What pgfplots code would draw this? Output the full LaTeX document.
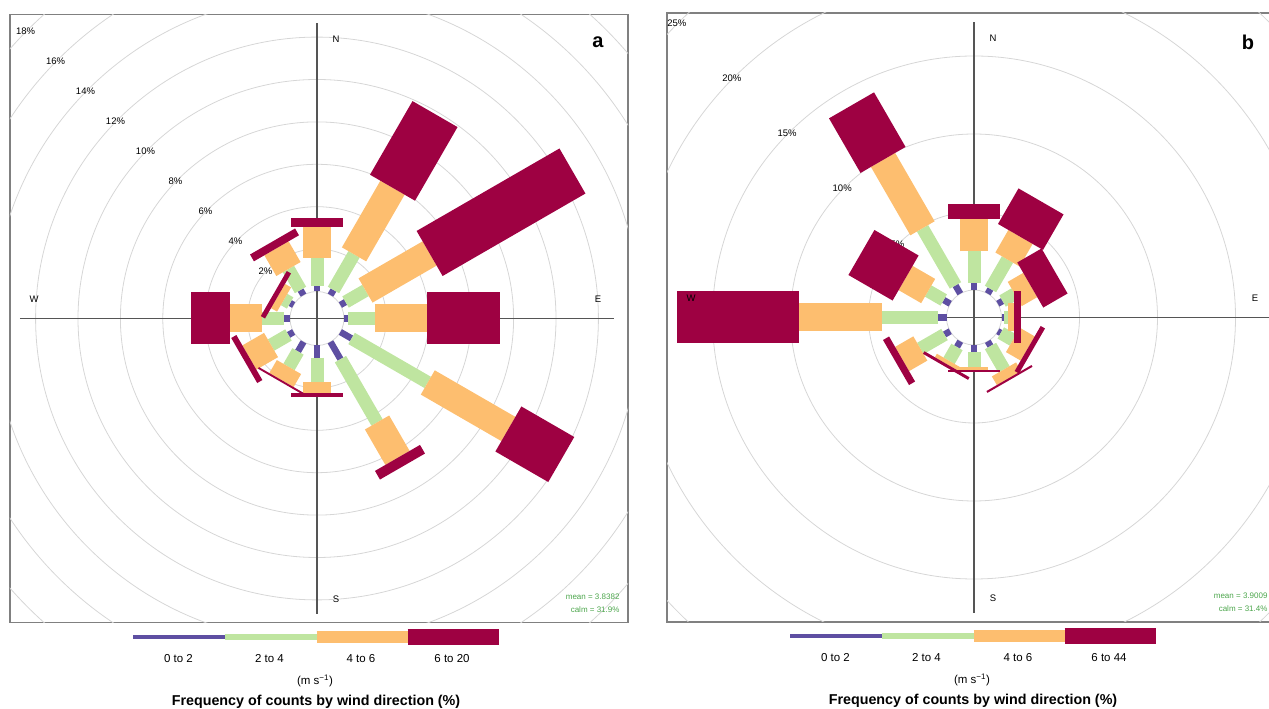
\documentclass[border=0pt]{standalone}
\usepackage{fontspec}
\setmainfont{Liberation Sans}
\usepackage{pgfplots}
\usepackage{pgfplotstable}
\pgfplotsset{compat=1.18}
\definecolor{c1}{HTML}{5E4FA2}
\definecolor{c2}{HTML}{BFE5A0}
\definecolor{c3}{HTML}{FDBE6F}
\definecolor{c4}{HTML}{9E0142}
\definecolor{gridc}{HTML}{D6D6D6}
\definecolor{axc}{HTML}{555555}
\definecolor{framec}{HTML}{808080}
\definecolor{statc}{HTML}{4CA64C}

% cumulative frequency (%) at the end of each speed bin, by direction
\pgfplotstableread{
d a b c e
0 0.28 1.60 3.05 3.49
30 0.28 2.22 5.85 9.86
60 0.28 1.37 4.86 12.64
90 0.19 1.46 3.92 7.36
120 0.61 4.76 9.15 12.03
150 0.94 4.39 6.32 6.79
180 0.57 1.72 2.26 2.41
210 0.52 1.37 2.08 2.17
240 0.28 1.23 2.41 2.69
270 0.28 1.32 2.83 4.67
300 0.19 0.52 0.85 1.08
330 0.28 1.42 2.55 2.92
}\roseA

\pgfplotstableread{
d a b c e
0 0.48 2.47 4.58 5.54
30 0.35 2.53 4.20 6.83
60 0.35 1.25 2.40 4.20
90 0.16 0.42 0.77 1.28
120 0.22 1.12 2.21 2.53
150 0.35 2.08 2.72 2.85
180 0.42 1.44 1.63 1.70
210 0.42 1.44 1.70 1.89
240 0.42 2.21 3.56 4.01
270 0.54 4.13 9.46 17.28
300 0.48 1.63 3.30 6.57
330 0.61 4.84 9.90 13.94
}\roseB

\newcommand{\pctfont}{\fontsize{9.5}{11}\selectfont}
\newcommand{\cardfont}{\fontsize{9.5}{11}\selectfont}

% #1 table, #2 offset, #3 scale
\newcommand{\rose}[3]{%
\addplot[draw=c1, line width=6.5pt, mark=none, quiver={u={#3*\thisrow{a}*sin(\thisrow{d})}, v={#3*\thisrow{a}*cos(\thisrow{d})}}] table[x expr={#2*sin(\thisrow{d})}, y expr={#2*cos(\thisrow{d})}] {#1};
\addplot[draw=c2, line width=13pt, mark=none, quiver={u={#3*(\thisrow{b}-\thisrow{a})*sin(\thisrow{d})}, v={#3*(\thisrow{b}-\thisrow{a})*cos(\thisrow{d})}}] table[x expr={(#2+#3*\thisrow{a})*sin(\thisrow{d})}, y expr={(#2+#3*\thisrow{a})*cos(\thisrow{d})}] {#1};
\addplot[draw=c3, line width=28pt, mark=none, quiver={u={#3*(\thisrow{c}-\thisrow{b})*sin(\thisrow{d})}, v={#3*(\thisrow{c}-\thisrow{b})*cos(\thisrow{d})}}] table[x expr={(#2+#3*\thisrow{b})*sin(\thisrow{d})}, y expr={(#2+#3*\thisrow{b})*cos(\thisrow{d})}] {#1};
\addplot[draw=c4, line width=52pt, mark=none, quiver={u={#3*(\thisrow{e}-\thisrow{c})*sin(\thisrow{d})}, v={#3*(\thisrow{e}-\thisrow{c})*cos(\thisrow{d})}}] table[x expr={(#2+#3*\thisrow{c})*sin(\thisrow{d})}, y expr={(#2+#3*\thisrow{c})*cos(\thisrow{d})}] {#1};
}

% #1 label of last bin
\newcommand{\roselegend}[1]{%
\draw[c1, line width=4pt] (axis cs:-184,-319) -- (axis cs:-92.5,-319);
\draw[c2, line width=6pt] (axis cs:-92.5,-319) -- (axis cs:-0.5,-319);
\draw[c3, line width=12pt] (axis cs:-0.5,-319) -- (axis cs:90.5,-319);
\draw[c4, line width=16pt] (axis cs:90.5,-319) -- (axis cs:182,-319);
\node[font=\fontsize{11.5}{13}\selectfont] at (axis cs:-138.5,-340) {0 to 2};
\node[font=\fontsize{11.5}{13}\selectfont] at (axis cs:-47.5,-340) {2 to 4};
\node[font=\fontsize{11.5}{13}\selectfont] at (axis cs:44,-340) {4 to 6};
\node[font=\fontsize{11.5}{13}\selectfont] at (axis cs:135,-340) {#1};
\node[font=\fontsize{11.5}{13}\selectfont] at (axis cs:-2,-362.5) {(m s\textsuperscript{−1})};
\node[font=\bfseries\fontsize{14.3}{16}\selectfont] at (axis cs:-1,-383) {Frequency of counts by wind direction (\%)};
}

\newcommand{\crosshair}{%
\draw[axc, line width=1.2pt] (axis cs:0,-295.5) -- (axis cs:0,295.5);
\draw[axc, line width=1.2pt] (axis cs:-297,0) -- (axis cs:297,0);
}

\newcommand{\cardinals}{%
\node[font=\cardfont] at (axis cs:19,279) {N};
\node[font=\cardfont] at (axis cs:19,-281) {S};
\node[font=\cardfont] at (axis cs:-283,19) {W};
\node[font=\cardfont] at (axis cs:281,19) {E};
}

\begin{document}
\begin{tikzpicture}
\useasboundingbox (0,0) rectangle (1269pt,709pt);

% ---------------- panel a ----------------
\begin{axis}[at={(10pt,86.5pt)}, anchor=south west, scale only axis,
  width=618pt, height=608pt, xmin=-307, xmax=311, ymin=-304, ymax=304,
  ticks=none, axis line style={framec, line width=1.4pt}, clip=false]
\begin{scope}
\clip (rel axis cs:0,0) rectangle (rel axis cs:1,1);
\draw[gridc, line width=0.8pt] (axis cs:0,0) circle[radius=27pt];
\draw[gridc, line width=0.8pt] (axis cs:0,0) circle[radius=69.4pt];
\draw[gridc, line width=0.8pt] (axis cs:0,0) circle[radius=111.8pt];
\draw[gridc, line width=0.8pt] (axis cs:0,0) circle[radius=154.2pt];
\draw[gridc, line width=0.8pt] (axis cs:0,0) circle[radius=196.6pt];
\draw[gridc, line width=0.8pt] (axis cs:0,0) circle[radius=239pt];
\draw[gridc, line width=0.8pt] (axis cs:0,0) circle[radius=281.4pt];
\draw[gridc, line width=0.8pt] (axis cs:0,0) circle[radius=323.8pt];
\draw[gridc, line width=0.8pt] (axis cs:0,0) circle[radius=366.2pt];
\draw[gridc, line width=0.8pt] (axis cs:0,0) circle[radius=408.6pt];
\end{scope}
\node[font=\pctfont] at (axis cs:-51.6,47.1) {2\%};
\node[font=\pctfont] at (axis cs:-81.5,77) {4\%};
\node[font=\pctfont] at (axis cs:-111.5,107) {6\%};
\node[font=\pctfont] at (axis cs:-141.5,137) {8\%};
\node[font=\pctfont] at (axis cs:-171.5,167) {10\%};
\node[font=\pctfont] at (axis cs:-201.5,197) {12\%};
\node[font=\pctfont] at (axis cs:-231.5,227) {14\%};
\node[font=\pctfont] at (axis cs:-261.4,257) {16\%};
\node[font=\pctfont] at (axis cs:-291.4,287) {18\%};
\crosshair
\rose{\roseA}{27}{21.2}
\cardinals
\node[font=\bfseries\fontsize{20}{22}\selectfont] at (axis cs:281,276.5) {a};
\node[anchor=east, text=statc, font=\fontsize{8}{9}\selectfont] at (axis cs:306,-278.5) {mean = 3.8382};
\node[anchor=east, text=statc, font=\fontsize{8}{9}\selectfont] at (axis cs:306,-291.5) {calm = 31.9\%};
\roselegend{6 to 20}
\end{axis}

% ---------------- panel b ----------------
\begin{axis}[at={(667pt,87pt)}, anchor=south west, scale only axis,
  width=618pt, height=609pt, xmin=-307, xmax=311, ymin=-304.5, ymax=304.5,
  ticks=none, axis line style={framec, line width=1.4pt}, clip=false]
\begin{scope}
\clip (rel axis cs:0,0) rectangle (rel axis cs:1,1);
\draw[gridc, line width=0.8pt] (axis cs:0,0) circle[radius=27.5pt];
\draw[gridc, line width=0.8pt] (axis cs:0,0) circle[radius=105.5pt];
\draw[gridc, line width=0.8pt] (axis cs:0,0) circle[radius=183.5pt];
\draw[gridc, line width=0.8pt] (axis cs:0,0) circle[radius=261.5pt];
\draw[gridc, line width=0.8pt] (axis cs:0,0) circle[radius=339.5pt];
\draw[gridc, line width=0.8pt] (axis cs:0,0) circle[radius=417.5pt];
\end{scope}
\node[font=\pctfont] at (axis cs:-76.6,73.6) {5\%};
\node[font=\pctfont] at (axis cs:-131.8,128.8) {10\%};
\node[font=\pctfont] at (axis cs:-186.9,183.9) {15\%};
\node[font=\pctfont] at (axis cs:-242.1,239.1) {20\%};
\node[font=\pctfont] at (axis cs:-297.2,294.2) {25\%};
\crosshair
\rose{\roseB}{27.5}{15.6}
\cardinals
\node[font=\bfseries\fontsize{20}{22}\selectfont] at (axis cs:274,275.5) {b};
\node[anchor=east, text=statc, font=\fontsize{8}{9}\selectfont] at (axis cs:297,-278.5) {mean = 3.9009};
\node[anchor=east, text=statc, font=\fontsize{8}{9}\selectfont] at (axis cs:297,-291.5) {calm = 31.4\%};
\roselegend{6 to 44}
\end{axis}
\end{tikzpicture}
\end{document}
